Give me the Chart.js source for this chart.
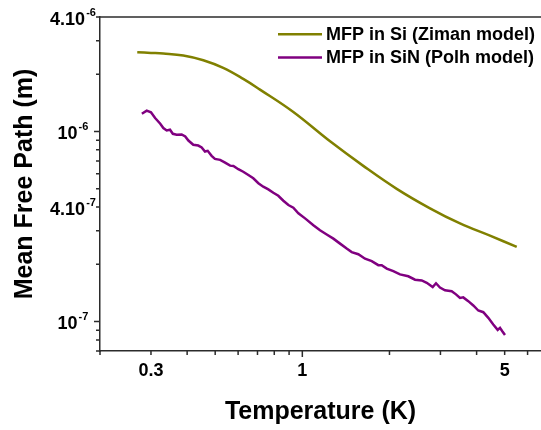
<!DOCTYPE html>
<html>
<head>
<meta charset="utf-8">
<script src="https://cdn.jsdelivr.net/npm/chart.js@4.4.1/dist/chart.umd.min.js"></script>
<style>
body { margin: 0; background: #fff; }
#wrap { width: 541px; height: 430px; position: relative; }
</style>
</head>
<body>
<div id="wrap"><canvas id="myChart"></canvas></div>
<script>
// MFP in Si (Ziman model)
const SI_TEMP = [0.269, 0.30, 0.331, 0.388, 0.455, 0.533, 0.625, 0.714, 0.931, 1.247, 1.624, 2.119, 2.761, 3.505, 4.449, 5.504];
const SI_MFP = [2.61e-6, 2.59e-6, 2.57e-6, 2.51e-6, 2.37e-6, 2.16e-6, 1.89e-6, 1.66e-6, 1.265e-6, 8.87e-7, 6.59e-7, 4.99e-7, 3.94e-7, 3.28e-7, 2.83e-7, 2.47e-7];

// MFP in SiN (Polh model)
const SIN_TEMP = [0.279, 0.290, 0.300, 0.310, 0.323, 0.331, 0.340, 0.349, 0.357, 0.368, 0.383, 0.394, 0.404, 0.420, 0.437, 0.449,
    0.461, 0.471, 0.486, 0.499, 0.520, 0.541, 0.563, 0.578, 0.601, 0.625, 0.651, 0.677, 0.705, 0.733, 0.763,
    0.794, 0.826, 0.860, 0.895, 0.931, 0.969, 1.022, 1.092, 1.151, 1.214, 1.280, 1.350, 1.423, 1.481, 1.561,
    1.647, 1.737, 1.830, 1.880, 1.957, 2.062, 2.175, 2.323, 2.451, 2.585, 2.690, 2.821, 2.896, 2.989, 3.111,
    3.281, 3.395, 3.505, 3.598, 3.744, 3.896, 4.054, 4.219, 4.390, 4.567, 4.730, 4.818, 4.907, 5.013];
const SIN_MFP = [1.240e-6, 1.287e-6, 1.260e-6, 1.177e-6, 1.098e-6, 1.042e-6, 1.012e-6, 1.021e-6, 9.72e-7, 9.61e-7, 9.64e-7, 9.41e-7, 8.96e-7, 8.51e-7, 8.43e-7, 8.23e-7,
    7.84e-7, 7.91e-7, 7.44e-7, 7.17e-7, 7.09e-7, 6.86e-7, 6.61e-7, 6.59e-7, 6.33e-7, 6.14e-7, 5.90e-7, 5.67e-7, 5.34e-7, 5.12e-7, 4.96e-7,
    4.76e-7, 4.59e-7, 4.32e-7, 4.10e-7, 3.97e-7, 3.71e-7, 3.49e-7, 3.21e-7, 3.02e-7, 2.87e-7, 2.73e-7, 2.57e-7, 2.42e-7, 2.32e-7, 2.26e-7,
    2.14e-7, 2.08e-7, 1.98e-7, 1.98e-7, 1.90e-7, 1.84e-7, 1.77e-7, 1.73e-7, 1.66e-7, 1.646e-7, 1.60e-7, 1.52e-7, 1.59e-7, 1.51e-7, 1.46e-7,
    1.445e-7, 1.39e-7, 1.33e-7, 1.34e-7, 1.28e-7, 1.215e-7, 1.143e-7, 1.12e-7, 1.046e-7, 9.64e-8, 9.04e-8, 9.26e-8, 8.89e-8, 8.50e-8];

const SERIES_NAMES = ['MFP in Si (Ziman model)', 'MFP in SiN (Polh model)'];
const SERIES_COLORS = ['#808000', '#800080'];

// axis ticks and labels
const X_TICKS = [0.2, 0.3, 0.4, 0.5, 0.6, 0.7, 0.8, 0.9, 1, 2, 3, 4, 5, 6];
const X_LABEL_VALUES = [0.3, 1, 5];
const X_LABELS = ['0.3', '1', '5'];
const Y_TICKS = [7e-8, 8e-8, 9e-8, 1e-7, 2e-7, 3e-7, 4e-7, 5e-7, 6e-7, 7e-7, 8e-7, 9e-7, 1e-6, 2e-6, 3e-6, 4e-6];
const Y_LABEL_VALUES = [1e-7, 4e-7, 1e-6, 4e-6];
const Y_LABEL_BASE = ['10', '4.10', '10', '4.10'];
const Y_LABEL_EXP = ['-7', '-7', '-6', '-6'];

const AXIS_COLOR = '#2b2b2b';

Chart.defaults.font.family = 'Arial, "Liberation Sans", sans-serif';
Chart.defaults.color = '#000';

function zip(xs, ys) {
    return xs.map((x, i) => ({x: x, y: ys[i]}));
}

function isDecade(v) {
    const l = Math.log10(v);
    return Math.abs(l - Math.round(l)) < 1e-9;
}

const axisDecor = {
    id: 'axisDecor',
    afterDraw(chart) {
        const ctx = chart.ctx, area = chart.chartArea;
        const xs = chart.scales.x, ys = chart.scales.y;
        ctx.save();
        ctx.strokeStyle = AXIS_COLOR;
        ctx.lineWidth = 1.5;
        ctx.beginPath();
        ctx.moveTo(area.left, area.top);
        ctx.lineTo(area.right, area.top);
        ctx.stroke();

        ctx.beginPath();
        X_TICKS.forEach(v => {
            const px = xs.getPixelForValue(v);
            const len = isDecade(v) ? 6 : 4;
            ctx.moveTo(px, area.bottom);
            ctx.lineTo(px, area.bottom + len);
        });
        Y_TICKS.forEach(v => {
            const py = ys.getPixelForValue(v);
            const len = isDecade(v) ? 6 : 4;
            ctx.moveTo(area.left, py);
            ctx.lineTo(area.left - len, py);
        });
        ctx.stroke();

        ctx.fillStyle = '#000';
        ctx.font = 'bold 18px Arial, "Liberation Sans", sans-serif';
        ctx.textAlign = 'center';
        ctx.textBaseline = 'alphabetic';
        X_LABEL_VALUES.forEach((v, i) => {
            ctx.fillText(X_LABELS[i], xs.getPixelForValue(v), area.bottom + 25);
        });

        ctx.textAlign = 'left';
        Y_LABEL_VALUES.forEach((v, i) => {
            const py = ys.getPixelForValue(v);
            ctx.font = 'bold 18px Arial, "Liberation Sans", sans-serif';
            const wb = ctx.measureText(Y_LABEL_BASE[i]).width;
            ctx.font = 'bold 11px Arial, "Liberation Sans", sans-serif';
            const we = ctx.measureText(Y_LABEL_EXP[i]).width;
            const x0 = 73 - (wb + we + 1) / 2;
            ctx.font = 'bold 18px Arial, "Liberation Sans", sans-serif';
            ctx.fillText(Y_LABEL_BASE[i], x0, py + 7.5);
            ctx.font = 'bold 11px Arial, "Liberation Sans", sans-serif';
            ctx.fillText(Y_LABEL_EXP[i], x0 + wb + 1, py - 1.5);
        });

        // legend
        const rows = [34.3, 57.5];
        ctx.font = 'bold 18px Arial, "Liberation Sans", sans-serif';
        ctx.textBaseline = 'middle';
        ctx.lineWidth = 2.5;
        SERIES_NAMES.forEach((name, i) => {
            ctx.strokeStyle = SERIES_COLORS[i];
            ctx.beginPath();
            ctx.moveTo(278, rows[i]);
            ctx.lineTo(322, rows[i]);
            ctx.stroke();
            ctx.fillText(name, 326, rows[i] + 1);
        });
        ctx.restore();
    }
};

var ctx = document.getElementById('myChart').getContext('2d');
var myChart = new Chart(ctx, {
    type: 'line',
    data: {
        datasets: [{
            label: SERIES_NAMES[0],
            data: zip(SI_TEMP, SI_MFP),
            borderColor: SERIES_COLORS[0],
            borderWidth: 2.5,
            pointRadius: 0,
            tension: 0.4,
            fill: false
        }, {
            label: SERIES_NAMES[1],
            data: zip(SIN_TEMP, SIN_MFP),
            borderColor: SERIES_COLORS[1],
            borderWidth: 2.5,
            pointRadius: 0,
            tension: 0,
            fill: false
        }]
    },
    options: {
        responsive: true,
        maintainAspectRatio: false,
        animation: false,
        layout: { padding: { top: 17, right: 0, left: 0, bottom: 0 } },
        plugins: {
            legend: { display: false },
            tooltip: { enabled: false }
        },
        scales: {
            x: {
                type: 'logarithmic',
                min: 0.2,
                max: 6.676,
                grid: { display: false },
                ticks: { display: false },
                border: { display: true, color: AXIS_COLOR, width: 1.5 },
                title: {
                    display: true,
                    text: 'Temperature (K)',
                    color: '#000',
                    font: { size: 25, weight: 'bold' },
                    padding: { top: 0, bottom: 3 }
                },
                afterFit: function(scale) { scale.height = 79; }
            },
            y: {
                type: 'logarithmic',
                min: 7e-8,
                max: 4e-6,
                grid: { display: false },
                ticks: { display: false },
                border: { display: true, color: AXIS_COLOR, width: 1.5 },
                title: {
                    display: true,
                    text: 'Mean Free Path (m)',
                    color: '#000',
                    font: { size: 25, weight: 'bold' },
                    padding: { top: 10, bottom: 0 }
                },
                afterFit: function(scale) { scale.width = 100; }
            }
        }
    },
    plugins: [axisDecor]
});
</script>
</body>
</html>
